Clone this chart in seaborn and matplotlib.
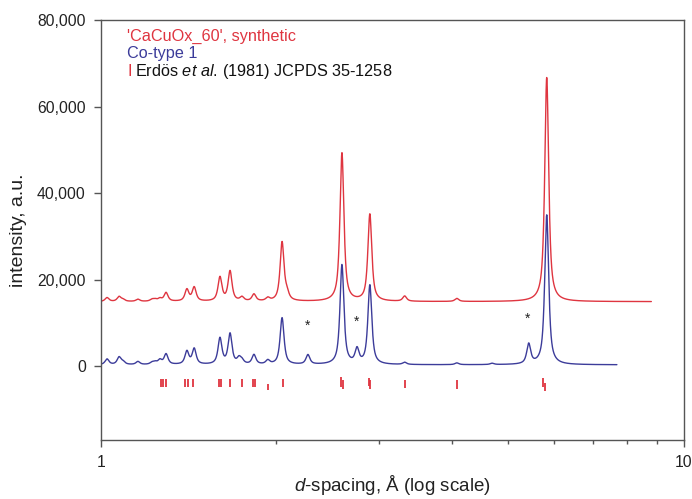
import numpy as np
import pandas as pd
import matplotlib
matplotlib.use("Agg")
import matplotlib.pyplot as plt
import seaborn as sns
from matplotlib.ticker import FixedLocator, FuncFormatter, NullFormatter

# ---------------- data ----------------
red_label = "'CaCuOx_60', synthetic"
blue_label = "Co-type 1"
ref_text = "Erdös $\\mathit{et\\ al.\\,}$(1981) JCPDS 35-1258"

# synthetic CaCuOx_60 pattern: peak d-spacings (Å) and heights above baseline
red_d = [1.024, 1.074, 1.091, 1.157, 1.223, 1.238, 1.262, 1.293, 1.404, 1.445,
         1.600, 1.665, 1.745, 1.830, 1.933, 2.045, 2.085, 2.591, 2.893, 3.320,
         4.080, 5.820]
red_h = [900, 1100, 400, 500, 400, 400, 600, 2000, 2700, 3200,
         5500, 6900, 900, 1600, 700, 13600, 1400, 34300, 20100, 1200,
         700, 51800]
red_base = 14900
red_span = [1.0, 8.8]

# Co-type 1 pattern
blue_d = [1.024, 1.074, 1.091, 1.157, 1.223, 1.238, 1.262, 1.293, 1.404, 1.445,
          1.600, 1.665, 1.725, 1.745, 1.830, 1.933, 2.045, 2.265, 2.591, 2.750,
          2.893, 3.320, 4.080, 4.690, 5.420, 5.820]
blue_h = [1300, 1700, 600, 700, 400, 500, 1000, 2400, 3000, 3600,
          6000, 7000, 1300, 800, 2200, 900, 10800, 2200, 23000, 3300,
          18300, 500, 400, 300, 4600, 34600]
blue_base = 300
blue_span = [1.0, 7.68]

# reference lines (Erdös et al. 1981, JCPDS 35-1258)
ref_d = [1.265, 1.275, 1.293, 1.393, 1.410, 1.438, 1.594, 1.606, 1.664, 1.745,
         1.823, 1.837, 1.933, 2.050, 2.585, 2.600, 2.885, 2.900, 3.320, 4.080,
         5.730, 5.770]
ref_top = [-3000, -3000, -3000, -3000, -3000, -3000, -3000, -3000, -3000, -3000,
           -3000, -3000, -4200, -2900, -2600, -3200, -2700, -3300, -3100, -3300,
           -2800, -3800]
ref_bottom = [-4900, -4900, -4900, -4900, -4900, -4900, -4900, -4900, -4900, -4900,
              -4900, -4900, -5600, -4800, -4800, -5300, -4700, -5300, -5000, -5300,
              -4800, -5800]

# impurity markers
star_d = [2.265, 2.750, 5.390]
star_y = [9300, 10200, 10900]

# y-axis ticks
y_ticks = [0, 20000, 40000, 60000, 80000]

# ---------------- styling ----------------
RED = "#df3540"
BLUE = "#3c3c9a"
GREY = "#555555"

sns.set_style("ticks")
plt.rcParams["font.family"] = ["Liberation Sans", "DejaVu Sans"]
plt.rcParams["mathtext.fontset"] = "custom"
plt.rcParams["mathtext.rm"] = "Liberation Sans"
plt.rcParams["mathtext.it"] = "Liberation Sans:italic"


def profile(grid, centers, heights, base, fwhm=0.0080):
    lg = np.log10(grid)[:, None]
    lc = np.log10(np.asarray(centers))[None, :]
    x = (lg - lc) / (fwhm / 2.0)
    lor = 1.0 / (1.0 + x ** 2)
    gau = np.exp(-np.log(2) * x ** 2)
    shape = 0.8 * lor + 0.2 * gau
    return base + (shape * np.asarray(heights)[None, :]).sum(axis=1)


grid_r = np.geomspace(red_span[0], red_span[1], 6000)
grid_b = np.geomspace(blue_span[0], blue_span[1], 6000)
df = pd.concat([
    pd.DataFrame({"d": grid_r, "I": profile(grid_r, red_d, red_h, red_base), "s": red_label}),
    pd.DataFrame({"d": grid_b, "I": profile(grid_b, blue_d, blue_h, blue_base), "s": blue_label}),
])

fig = plt.figure(figsize=(6.92, 4.99), dpi=100)
ax = fig.add_axes([0.146, 0.118, 0.842, 0.842])

sns.lineplot(data=df, x="d", y="I", hue="s", palette={red_label: RED, blue_label: BLUE},
             hue_order=[red_label, blue_label], legend=False, linewidth=1.0,
             estimator=None, sort=False, ax=ax)

ax.vlines(ref_d, ref_bottom, ref_top, color=RED, linewidth=1.3)
for xd, yv in zip(star_d, star_y):
    ax.text(xd, yv, "*", ha="center", va="center", fontsize=10, color="#222222")

ax.set_xscale("log")
ax.set_xlim(1, 10)
ax.set_ylim(-17100, 80000)
ax.xaxis.set_major_locator(FixedLocator([1, 10]))
ax.xaxis.set_major_formatter(FuncFormatter(lambda v, p: f"{v:g}"))
ax.xaxis.set_minor_locator(FixedLocator([2, 3, 4, 5, 6, 7, 8, 9]))
ax.xaxis.set_minor_formatter(NullFormatter())
ax.yaxis.set_major_locator(FixedLocator(y_ticks))
ax.yaxis.set_major_formatter(FuncFormatter(lambda v, p: f"{int(v):,}"))

for sp in ax.spines.values():
    sp.set_color(GREY)
    sp.set_linewidth(1.0)
ax.tick_params(axis="both", which="major", length=5, width=1, color=GREY,
               labelsize=11.3, labelcolor="#222222", direction="out", pad=6)
ax.tick_params(axis="x", which="minor", length=3, width=1, color=GREY, direction="out")
ax.tick_params(top=False, right=False, which="both")

ax.set_xlabel("$\\mathit{d}$-spacing, Å (log scale)", fontsize=13.5, color="#222222", labelpad=2)
ax.set_ylabel("intensity, a.u.", fontsize=14, color="#222222", labelpad=7)

ax.text(0.045, 0.961, red_label, transform=ax.transAxes, color=RED, fontsize=11.7, va="center")
ax.text(0.045, 0.919, blue_label, transform=ax.transAxes, color=BLUE, fontsize=11.7, va="center")
ax.text(0.045, 0.878, "I", transform=ax.transAxes, color=RED, fontsize=11.7, va="center")
ax.text(0.058, 0.878, ref_text, transform=ax.transAxes, color="#111111", fontsize=11.7, va="center")

fig.savefig("out.png", dpi=100)
